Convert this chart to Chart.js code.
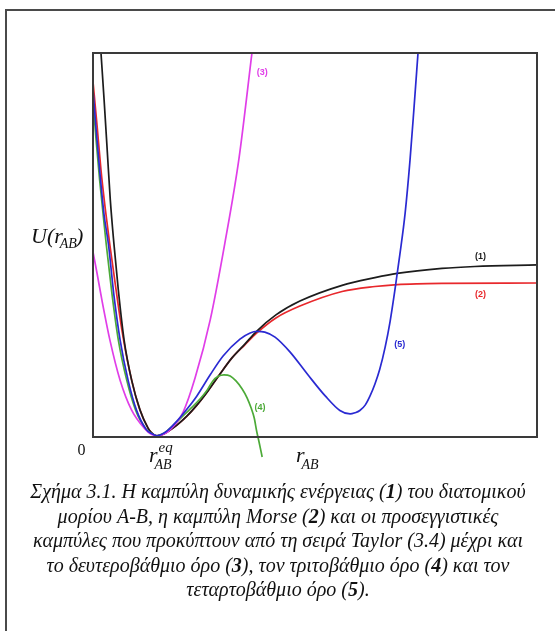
<!DOCTYPE html>
<html>
<head>
<meta charset="utf-8">
<script src="https://cdn.jsdelivr.net/npm/chart.js@4/dist/chart.umd.min.js"></script>
<style>
  html, body { margin: 0; padding: 0; background: #fff; }
  canvas { display: block; }
</style>
</head>
<body>
<canvas id="chart" width="555" height="631"></canvas>
<script>
// Interatomic distance r_AB (arbitrary units) and potential energy U(r_AB) for each curve.

// (1) exact potential energy curve
const rExact = [0.18, 0.25, 0.32, 0.39, 0.47, 0.57, 0.70, 0.87, 1.06, 1.24, 1.31, 1.44, 1.58, 1.67, 1.89, 2.12, 2.34, 2.59, 2.86, 3.13, 3.42, 3.69, 4.12, 4.66, 5.61, 6.35, 6.85, 7.86, 8.60, 10.0];
const uExact = [10.0, 8.78, 7.47, 6.17, 5.05, 3.83, 2.53, 1.48, 0.70, 0.23, 0.12, 0.03, 0.07, 0.13, 0.31, 0.55, 0.83, 1.20, 1.64, 2.06, 2.42, 2.76, 3.18, 3.54, 3.95, 4.15, 4.26, 4.39, 4.44, 4.48];

// (2) Morse curve
const rMorse = [0, 0.09, 0.18, 0.28, 0.38, 0.52, 0.65, 0.83, 1.04, 1.24, 1.31, 1.44, 1.58, 1.67, 1.89, 2.12, 2.34, 2.59, 2.86, 3.13, 3.42, 3.69, 4.12, 4.66, 5.61, 6.35, 6.85, 7.30, 7.86, 10.0];
const uMorse = [9.25, 8.13, 6.95, 5.91, 5.00, 3.83, 2.79, 1.69, 0.76, 0.23, 0.12, 0.03, 0.07, 0.13, 0.31, 0.55, 0.83, 1.20, 1.64, 2.06, 2.40, 2.71, 3.10, 3.41, 3.79, 3.92, 3.97, 3.99, 4.00, 4.01];

// (3) Taylor series up to the second-order term
const rQuad = [0, 0.09, 0.20, 0.38, 0.61, 0.87, 1.17, 1.31, 1.45, 1.60, 1.73, 2.03, 2.30, 2.64, 2.97, 3.29, 3.58];
const uQuad = [4.82, 4.27, 3.57, 2.53, 1.48, 0.70, 0.21, 0.07, 0.03, 0.08, 0.18, 0.65, 1.54, 3.05, 5.05, 7.27, 10.0];

// (4) Taylor series up to the third-order term
const rCubic = [0, 0.07, 0.15, 0.23, 0.30, 0.43, 0.57, 0.76, 0.96, 1.19, 1.32, 1.44, 1.55, 1.67, 1.91, 2.19, 2.41, 2.57, 2.70, 2.82, 2.95, 3.09, 3.22, 3.36, 3.47, 3.56, 3.63, 3.69, 3.74, 3.81];
const uCubic = [8.78, 7.73, 6.69, 5.78, 5.00, 3.70, 2.53, 1.48, 0.70, 0.21, 0.09, 0.03, 0.07, 0.16, 0.42, 0.73, 0.99, 1.22, 1.46, 1.58, 1.62, 1.59, 1.46, 1.25, 1.02, 0.76, 0.50, 0.13, -0.13, -0.52];

// (5) Taylor series up to the fourth-order term
const rQuartic = [0, 0.07, 0.16, 0.25, 0.35, 0.47, 0.61, 0.79, 0.98, 1.19, 1.32, 1.44, 1.55, 1.67, 1.91, 2.14, 2.34, 2.64, 2.93, 3.31, 3.54, 3.69, 3.87, 4.10, 4.44, 4.84, 5.23, 5.56, 5.79, 5.90, 6.01, 6.13, 6.24, 6.35, 6.46, 6.58, 6.69, 6.80, 6.91, 7.03, 7.14, 7.23, 7.32];
const uQuartic = [9.04, 8.00, 6.82, 5.78, 5.00, 3.70, 2.53, 1.48, 0.70, 0.21, 0.09, 0.03, 0.07, 0.16, 0.44, 0.76, 1.07, 1.62, 2.11, 2.55, 2.71, 2.75, 2.73, 2.60, 2.21, 1.62, 1.07, 0.69, 0.60, 0.63, 0.69, 0.83, 1.07, 1.38, 1.77, 2.34, 3.00, 3.83, 4.74, 5.83, 7.21, 8.57, 10.0];

// Curve tags and where they sit (in data units)
const curveTags = ['(1)', '(2)', '(3)', '(4)', '(5)'];
const tagR = [8.73, 8.73, 3.81, 3.76, 6.91];
const tagU = [4.70, 3.70, 9.48, 0.77, 2.42];

// Axis range
const rRange = [0, 10];
const uRange = [0, 10];

// Caption; {n} marks a bold digit
const captionLines = [
  'Σχήμα 3.1. Η καμπύλη δυναμικής ενέργειας ({1}) του διατομικού',
  'μορίου A-B, η καμπύλη Morse ({2}) και οι προσεγγιστικές',
  'καμπύλες που προκύπτουν από τη σειρά Taylor (3.4) μέχρι και',
  'το δευτεροβάθμιο όρο ({3}), τον τριτοβάθμιο όρο ({4}) και τον',
  'τεταρτοβάθμιο όρο ({5}).'
];

const curveColors = ['#1c1c1c', '#e8282c', '#e03ee8', '#4caa38', '#2a2ad2'];
const drawOrder = [3, 4, 1, 2, 0];
const series = [[rExact, uExact], [rMorse, uMorse], [rQuad, uQuad], [rCubic, uCubic], [rQuartic, uQuartic]];

const datasets = series.map(([r, u], i) => {
  const ds = {
    data: r.map((x, k) => ({ x: x, y: u[k] })),
    borderColor: curveColors[i],
    borderWidth: 1.7,
    pointRadius: 0,
    fill: false,
    cubicInterpolationMode: 'monotone',
    order: drawOrder[i]
  };
  if (i === 3) ds.clip = false; // the cubic term dips below the r axis
  return ds;
});

const SERIF = '"Liberation Serif", "Times New Roman", serif';

function drawRich(ctx, parts, x, y) {
  let cx = x;
  for (const p of parts) {
    ctx.font = p.font;
    const px = cx + (p.dx || 0);
    ctx.fillText(p.t, px, y + (p.dy || 0));
    if (!p.noAdvance) cx = px + ctx.measureText(p.t).width;
  }
}

const decorPlugin = {
  id: 'decor',
  beforeDraw(chart) {
    const ctx = chart.ctx;
    ctx.save();
    ctx.fillStyle = '#fff';
    ctx.fillRect(0, 0, chart.width, chart.height);
    ctx.restore();
  },
  afterDatasetsDraw(chart) {
    const ctx = chart.ctx;
    const a = chart.chartArea;
    const xs = chart.scales.x, ys = chart.scales.y;
    ctx.save();

    // outer frame
    ctx.strokeStyle = '#4a4a4a';
    ctx.lineWidth = 2;
    ctx.beginPath();
    ctx.moveTo(6, chart.height);
    ctx.lineTo(6, 10);
    ctx.lineTo(chart.width, 10);
    ctx.stroke();

    // plot box
    ctx.strokeStyle = '#3a3a3a';
    ctx.lineWidth = 2;
    ctx.strokeRect(a.left, a.top, a.right - a.left, a.bottom - a.top);

    // curve tags
    ctx.font = 'bold 9px "Liberation Sans", Arial, sans-serif';
    ctx.textAlign = 'center';
    ctx.textBaseline = 'middle';
    curveTags.forEach((t, i) => {
      ctx.fillStyle = curveColors[i];
      ctx.fillText(t, xs.getPixelForValue(tagR[i]), ys.getPixelForValue(tagU[i]));
    });

    // axis labels
    ctx.fillStyle = '#111';
    ctx.textAlign = 'left';
    ctx.textBaseline = 'alphabetic';
    const big = 'italic 22px ' + SERIF;
    const sub = 'italic 14px ' + SERIF;
    drawRich(ctx, [
      { t: 'U(', font: big },
      { t: 'r', font: big },
      { t: 'AB', font: sub, dx: -3, dy: 5 },
      { t: ')', font: big, dx: -1 }
    ], 31, 243);

    ctx.font = '16px ' + SERIF;
    ctx.textAlign = 'center';
    ctx.fillText('0', 81.5, 455);
    ctx.textAlign = 'left';

    drawRich(ctx, [
      { t: 'r', font: big },
      { t: 'AB', font: sub, dx: -3, dy: 7, noAdvance: true },
      { t: 'eq', font: 'italic 15px ' + SERIF, dx: 1, dy: -10 }
    ], 149, 462);

    drawRich(ctx, [
      { t: 'r', font: big },
      { t: 'AB', font: sub, dx: -3, dy: 7 }
    ], 296, 462);

    // caption
    const capSize = 20;
    const reg = 'italic ' + capSize + 'px ' + SERIF;
    const bold = 'italic bold ' + capSize + 'px ' + SERIF;
    const baselines = [498, 523, 547, 572, 596];
    captionLines.forEach((line, li) => {
      const parts = line.split(/\{(\d)\}/).map((t, k) => ({ t: t, font: k % 2 ? bold : reg }));
      let w = 0;
      parts.forEach(p => { ctx.font = p.font; w += ctx.measureText(p.t).width; });
      drawRich(ctx, parts, 278 - w / 2, baselines[li]);
    });

    ctx.restore();
  }
};

new Chart(document.getElementById('chart'), {
  type: 'line',
  data: { datasets: datasets },
  options: {
    responsive: false,
    animation: false,
    layout: { padding: { left: 93, top: 53, right: 18, bottom: 194 } },
    plugins: { legend: { display: false }, tooltip: { enabled: false } },
    scales: {
      x: { type: 'linear', min: rRange[0], max: rRange[1], display: false },
      y: { type: 'linear', min: uRange[0], max: uRange[1], display: false }
    }
  },
  plugins: [decorPlugin]
});
</script>
</body>
</html>
